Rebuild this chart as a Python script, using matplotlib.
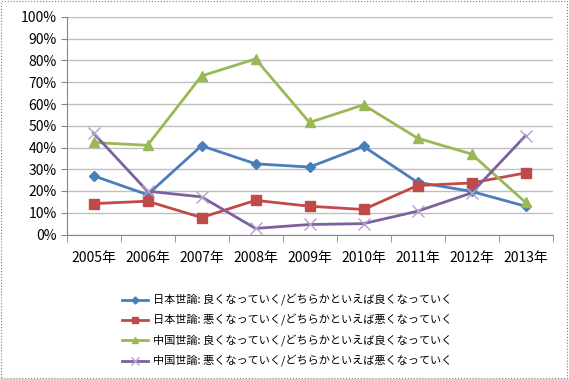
import numpy as np
import matplotlib
matplotlib.use('Agg')
import matplotlib.pyplot as plt
from matplotlib.patches import Rectangle

plt.rcParams['font.family'] = ['Noto Sans CJK JP', 'DejaVu Sans']

# Data
years = ['2005年', '2006年', '2007年', '2008年', '2009年', '2010年', '2011年', '2012年', '2013年']
jp_good = [27.0, 18.3, 40.8, 32.5, 31.0, 40.5, 24.0, 19.8, 13.0]
jp_bad = [14.2, 15.3, 7.8, 15.7, 13.0, 11.5, 22.5, 23.7, 28.3]
cn_good = [42.3, 41.0, 72.9, 80.7, 51.5, 59.6, 44.3, 37.0, 14.8]
cn_bad = [46.6, 19.9, 17.3, 2.8, 4.6, 5.0, 10.7, 19.1, 45.4]
labels = ['日本世論: 良くなっていく/どちらかといえば良くなっていく',
          '日本世論: 悪くなっていく/どちらかといえば悪くなっていく',
          '中国世論: 良くなっていく/どちらかといえば良くなっていく',
          '中国世論: 悪くなっていく/どちらかといえば悪くなっていく']

fig = plt.figure(figsize=(5.69, 3.79), dpi=100)
ax = fig.add_axes([66.5 / 569, 1 - 234.5 / 379, 486 / 569, 217.5 / 379])

x = np.arange(len(years))
ax.plot(x, jp_good, color='#4A7EBB', lw=2.0, marker='D', ms=5.5, label=labels[0])
ax.plot(x, jp_bad, color='#BE4B48', lw=2.0, marker='s', ms=7, label=labels[1])
ax.plot(x, cn_good, color='#98B954', lw=2.0, marker='^', ms=7, label=labels[2])
ax.plot(x, cn_bad, color='#7D60A0', lw=2.0, marker='x', ms=8, mew=1.0,
        mec='#B3A2C7', label=labels[3])

ax.set_xlim(-0.5, len(years) - 0.5)
ax.set_ylim(0, 100)
ax.set_yticks(np.arange(0, 101, 10))
ax.set_yticklabels([f'{v}%' for v in range(0, 101, 10)], fontsize=10)
ax.set_xticks(x)
ax.set_xticklabels(years, fontsize=10)
ax.set_xticks(np.arange(-0.5, len(years)), minor=True)
ax.tick_params(axis='x', which='major', length=0, pad=12)
ax.tick_params(axis='x', which='minor', length=5, color='#868686')
ax.tick_params(axis='y', length=4, color='#868686', pad=3)
ax.grid(axis='y', color='#BFBFBF', lw=1)
ax.set_axisbelow(True)
for s in ['top', 'right']:
    ax.spines[s].set_visible(False)
for s in ['left', 'bottom']:
    ax.spines[s].set_color('#868686')

ax.legend(loc='upper center', bbox_to_anchor=(287 / 569, 1 - 284 / 379),
          bbox_transform=fig.transFigure, frameon=False, fontsize=8,
          handlelength=2.4, labelspacing=0.75, handletextpad=0.4,
          markerscale=0.65)

fig.patches.append(Rectangle((0.002, 0.003), 0.995, 0.994, transform=fig.transFigure,
                             fill=False, ec='#7F7F7F', lw=0.8, ls=':'))

fig.savefig('out.png', dpi=100)
